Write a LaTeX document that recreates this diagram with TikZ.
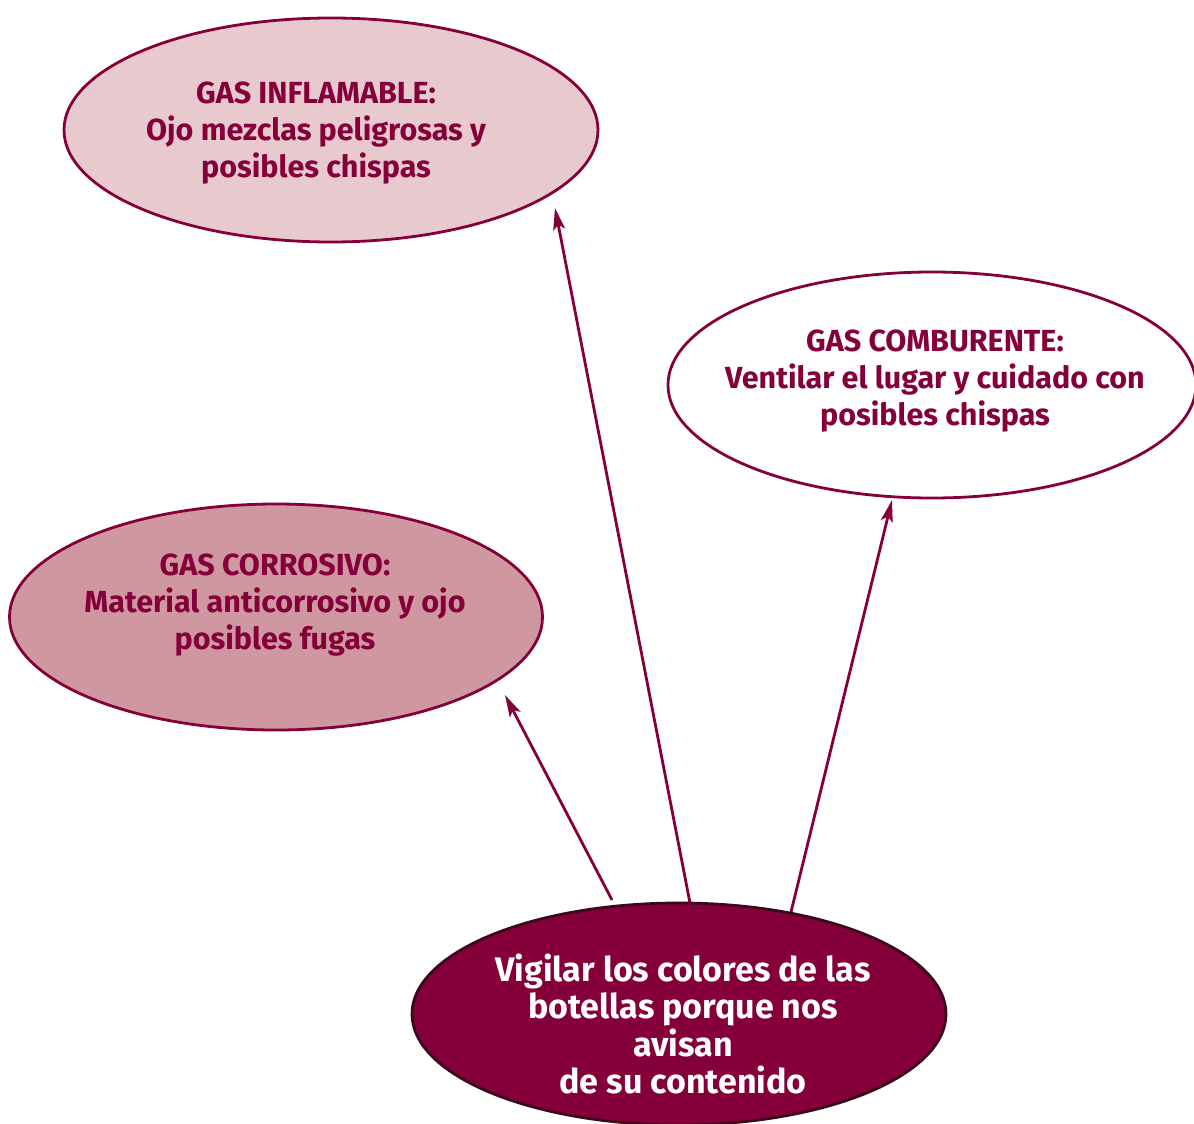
\documentclass[tikz,border=0pt]{standalone}
\usepackage{fontspec}
\setmainfont{Fira Sans}
\usetikzlibrary{shapes.geometric,arrows.meta}
\definecolor{maroon}{HTML}{85003A}
\definecolor{pinkA}{HTML}{E8CACE}
\definecolor{pinkB}{HTML}{CF98A0}
\definecolor{rimdark}{HTML}{3A0A1C}
\begin{document}
\begin{tikzpicture}[x=1pt,y=-1pt,
  bubble/.style={ellipse, draw=maroon, line width=2.8pt, inner sep=0pt},
  txt/.style={text=maroon, font=\bfseries\fontsize{30.5}{37}\selectfont, align=center, inner sep=0pt},
  arr/.style={draw=maroon, line width=2.8pt, -{Stealth[length=22pt,width=12pt,inset=5pt]}}]
\fill[white] (0,0) rectangle (1194,1124);
\useasboundingbox (0,0) rectangle (1194,1124);
\node[bubble, fill=pinkA, minimum width=534pt, minimum height=224pt] (infl) at (331,130) {};
\node[txt] (inflT) at (316,133) {GAS INFLAMABLE:\\Ojo mezclas peligrosas y\\posibles chispas};
\node[bubble, fill=white, minimum width=528pt, minimum height=226pt] (comb) at (932,385) {};
\node[txt] (combT) at (935,381) {GAS COMBURENTE:\\Ventilar el lugar y cuidado con\\posibles chispas};
\node[bubble, fill=pinkB, minimum width=533pt, minimum height=226pt] (corr) at (276,617) {};
\node[txt] (corrT) at (275,605) {GAS CORROSIVO:\\Material anticorrosivo y ojo\\posibles fugas};
\node[bubble, draw=rimdark, fill=maroon, minimum width=534pt, minimum height=222pt] (main) at (679,1014) {};
\node[txt, text=white, font=\bfseries\fontsize{34}{37.5}\selectfont] (mainT) at (683,1024) {Vigilar los colores de las\\botellas porque nos\\avisan\\de su contenido};
\coordinate (s1) at (612,900);
\coordinate (t1) at (505,695);
\coordinate (s2) at (690,903);
\coordinate (t2) at (555,208);
\coordinate (s3) at (791,912);
\coordinate (t3) at (892,500);
\draw[arr] (s1) -- (t1);
\draw[arr] (s2) -- (t2);
\draw[arr] (s3) -- (t3);
\end{tikzpicture}
\end{document}
